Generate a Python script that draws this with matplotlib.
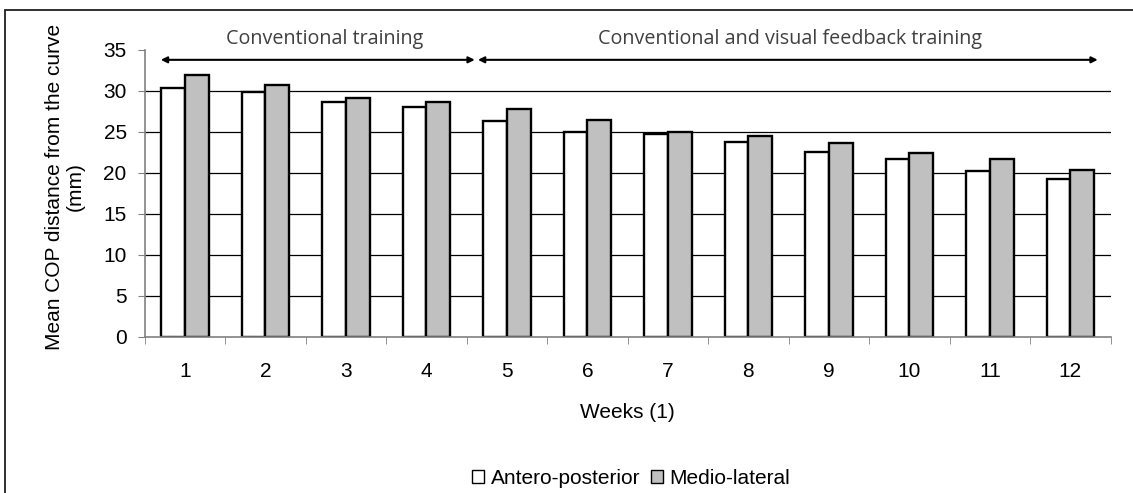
# Mean COP distance per week, grouped bars
import numpy as np
import matplotlib.pyplot as plt
from matplotlib.patches import Patch, Rectangle

# data
weeks = ["1", "2", "3", "4", "5", "6", "7", "8", "9", "10", "11", "12"]
antero_posterior = [30.4, 29.9, 28.7, 28.0, 26.3, 25.0, 24.8, 23.8, 22.6, 21.7, 20.2, 19.2]
medio_lateral = [31.9, 30.7, 29.2, 28.7, 27.8, 26.5, 25.0, 24.5, 23.6, 22.4, 21.7, 20.4]
series_names = ["Antero-posterior", "Medio-lateral"]
phase_labels = ["Conventional training", "Conventional and visual feedback training"]
y_ticks = [0, 5, 10, 15, 20, 25, 30, 35]

W, H = 1133, 493
fig = plt.figure(figsize=(W / 100, H / 100), dpi=100)
ax = fig.add_axes([144.75 / W, 1 - 336.7 / H, (1110.6 - 144.75) / W, (336.7 - 50) / H])

x = np.arange(len(weeks))
bw = 0.295
fs = 15

# gridlines behind the bars
for v in y_ticks[1:-1]:
    ax.axhline(v, color="black", lw=0.9, zorder=0)

ax.bar(x - bw / 2, antero_posterior, bw, color="white", edgecolor="black", lw=1.7, zorder=2)
ax.bar(x + bw / 2, medio_lateral, bw, color="#c0c0c0", edgecolor="black", lw=1.7, zorder=2)

ax.set_xlim(-0.5, len(weeks) - 0.5)
ax.set_ylim(0, 35)
ax.set_yticks(y_ticks)
ax.set_xticks(x)
ax.set_xticklabels(weeks)
ax.set_xticks(np.arange(len(weeks) + 1) - 0.5, minor=True)

for s in ["top", "right"]:
    ax.spines[s].set_visible(False)
for s in ["left", "bottom"]:
    ax.spines[s].set_color("#808080")
    ax.spines[s].set_linewidth(1.2)

lab_font = dict(family="Liberation Sans", size=fs)
ax.tick_params(axis="x", which="major", length=0, pad=18, labelsize=fs)
ax.tick_params(axis="x", which="minor", length=5, color="#808080", direction="out")
ax.tick_params(axis="y", length=5, color="#808080", direction="out", pad=8, labelsize=fs)
for t in ax.get_xticklabels() + ax.get_yticklabels():
    t.set_fontfamily("Liberation Sans")

ax.set_xlabel("Weeks (1)", fontdict=lab_font, labelpad=16)
fig.text(65 / W, 1 - 187 / H, "Mean COP distance from the curve\n(mm)", rotation=90,
         ha="center", va="center", multialignment="center", linespacing=1.15, **lab_font)

# phase arrows and labels above the plot
arrow_y = 33.8
ax.annotate("", xy=(3.6, arrow_y), xytext=(-0.3, arrow_y), annotation_clip=False,
            arrowprops=dict(arrowstyle="<|-|>", color="black", lw=1.5, mutation_scale=9,
                            shrinkA=0, shrinkB=0))
ax.annotate("", xy=(11.34, arrow_y), xytext=(3.64, arrow_y), annotation_clip=False,
            arrowprops=dict(arrowstyle="<|-|>", color="black", lw=1.5, mutation_scale=9,
                            shrinkA=0, shrinkB=0))
ax.text(1.73, 36.4, phase_labels[0], ha="center", va="center", fontsize=14.2,
        family="Open Sans", color="#404040", clip_on=False)
ax.text(7.52, 36.4, phase_labels[1], ha="center", va="center", fontsize=14.2,
        family="Open Sans", color="#404040", clip_on=False)

handles = [Patch(facecolor="white", edgecolor="black", lw=1),
           Patch(facecolor="#c0c0c0", edgecolor="black", lw=1)]
fig.legend(handles, series_names, loc="center", bbox_to_anchor=(631 / W, 1 - 478 / H),
           ncol=2, frameon=False, handlelength=0.6, handleheight=0.6, handletextpad=0.3,
           columnspacing=0.5, prop=lab_font)

# outer chart border (runs past right and bottom edges)
fig.patches.append(Rectangle((5 / W, -0.1), 1.2, 1 - 10 / H + 0.1, transform=fig.transFigure,
                             fill=False, ec="#202020", lw=1.3))

fig.savefig("out.png", dpi=100)
